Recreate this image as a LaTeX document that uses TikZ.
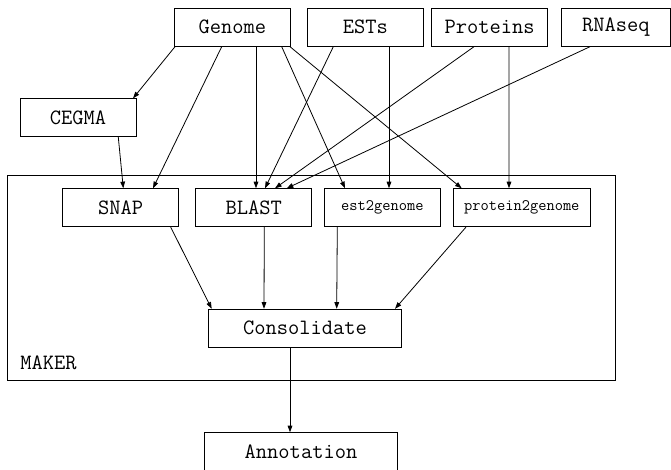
\documentclass[tikz,border=0pt]{standalone}
\usepackage{fontspec}
\usetikzlibrary{calc,arrows.meta}

\begin{document}
\begin{tikzpicture}[x=0.75pt, y=-0.75pt,
	box/.style={draw, line width=0.6pt, minimum width=87pt, minimum height=28.5pt, inner sep=0pt, font=\ttfamily\fontsize{16.4}{18}\selectfont},
	smallbox/.style={box, font=\ttfamily\fontsize{12}{14}\selectfont},
	edge/.style={draw, line width=0.6pt, -{Triangle[length=5pt,width=3.5pt]}}]
			%%%%% START %%%%%
			
			\useasboundingbox (0,0) rectangle (671,470);
			
			% inputs
			\node[box] (genome) at (232.3,27.3) {Genome};
			\node[box] (ests) at (365.3,27.3) {ESTs};
			\node[box] (proteins) at (489.7,27.3) {Proteins};
			\node[box, minimum width=82.3pt] (rnaseq) at (615.8,27.3) {RNAseq};
			\node[box] (cegma) at (78,117.8) {CEGMA};
			
			% MAKER frame
			\node[draw, line width=0.6pt, minimum width=456.3pt, minimum height=153.75pt] (makerbox) at (311.5,278.2) {};
			\node[anchor=west, inner sep=0pt, font=\ttfamily\fontsize{16.4}{18}\selectfont] (maker) at (20,363) {MAKER};
			
			\node[box] (snap) at (120.7,207.7) {SNAP};
			\node[box] (blast) at (253.7,207.7) {BLAST};
			\node[smallbox] (est2genome) at (382.3,207.7) {est2genome};
			\node[smallbox, minimum width=102.75pt] (protein2genome) at (521.8,207.7) {protein2genome};
			\node[box, minimum width=145pt] (consolidate) at (305,328.2) {Consolidate};
			
			\node[box, minimum width=145pt] (annotation) at (301,451.7) {Annotation};
			
			% edges
			\draw[edge] ($(genome.south)+(-57.3,0)$) -- ($(cegma.north)+(55,0)$);
			\draw[edge] ($(genome.south)+(-10.6,0)$) -- ($(snap.north)+(32.3,0)$);
			\draw[edge] ($(genome.south)+(23.7,0)$) -- ($(blast.north)+(2.3,0)$);
			\draw[edge] ($(genome.south)+(49.4,0)$) -- ($(est2genome.north)+(-37.3,0)$);
			\draw[edge] ($(genome.south)+(57.7,0)$) -- ($(protein2genome.north)+(-60.1,0)$);
			
			\draw[edge] ($(ests.south)+(-32,0)$) -- ($(blast.north)+(11.3,0)$);
			\draw[edge] ($(ests.south)+(23.7,0)$) -- ($(est2genome.north)+(6.7,0)$);
			\draw[edge] ($(proteins.south)+(-15.7,0)$) -- ($(blast.north)+(21.3,0)$);
			\draw[edge] ($(proteins.south)+(19.3,0)$) -- ($(protein2genome.north)+(-12.8,0)$);
			\draw[edge] ($(rnaseq.south)+(-25.8,0)$) -- ($(blast.north)+(33,0)$);
			
			\draw[edge] ($(cegma.south)+(40.3,0)$) -- ($(snap.north)+(2.6,0)$);
			
			\draw[edge] ($(snap.south)+(50,0)$) -- ($(consolidate.north)+(-93.3,0)$);
			\draw[edge] ($(blast.south)+(10.6,0)$) -- ($(consolidate.north)+(-41,0)$);
			\draw[edge] ($(est2genome.south)+(-45,0)$) -- ($(consolidate.north)+(31.7,0)$);
			\draw[edge] ($(protein2genome.south)+(-55.8,0)$) -- ($(consolidate.north)+(90,0)$);
			
			\draw[edge] ($(consolidate.south)+(-15,0)$) -- ($(annotation.north)+(-11,0)$);
			
			%%%%% END %%%%%
\end{tikzpicture}
\end{document}
